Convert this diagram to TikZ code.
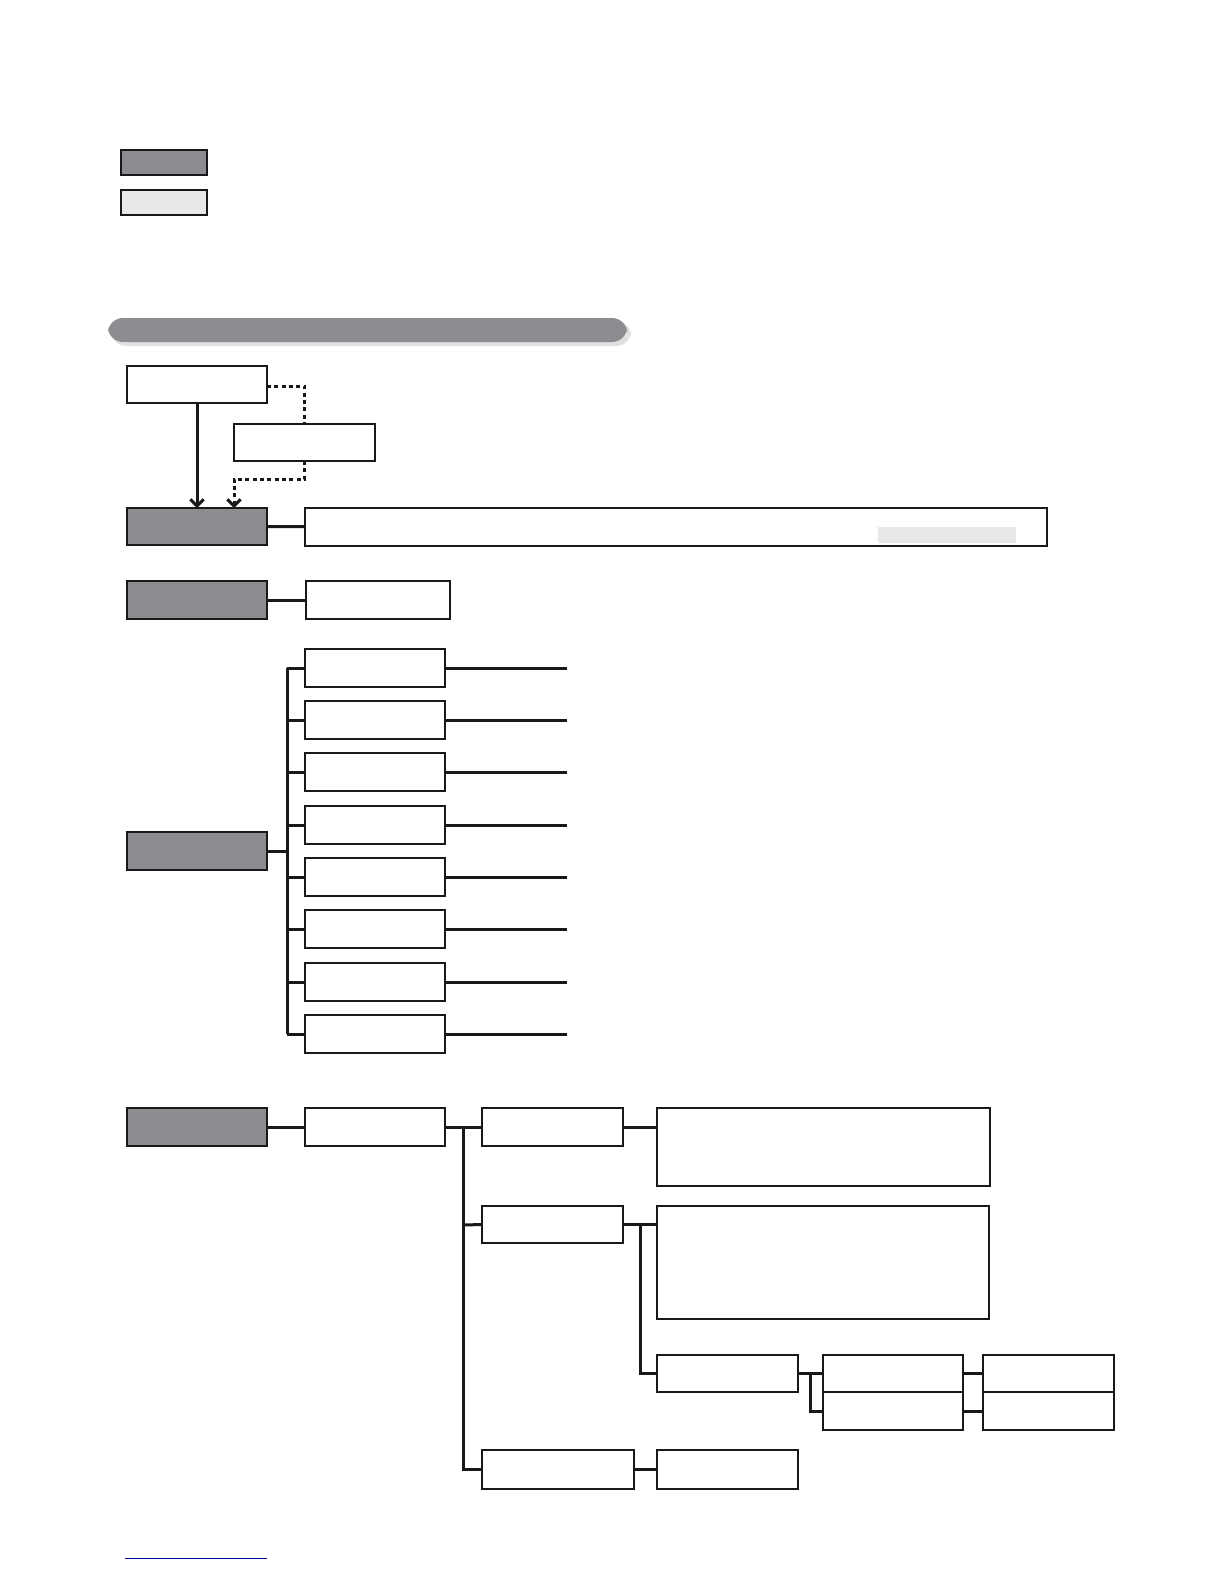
\documentclass[tikz,border=0pt]{standalone}
\usetikzlibrary{arrows.meta}
\definecolor{darkfill}{RGB}{140,141,145}
\definecolor{lightfill}{RGB}{232,232,234}
\tikzset{
  box/.style={draw=black!90,line width=0.9pt,fill=white,inner sep=0pt,outer sep=0pt},
  darkbox/.style={box,fill=darkfill},
  lightbox/.style={box,fill=lightfill},
  conn/.style={draw=black!90,line width=1.8pt},
  dotconn/.style={draw=black!90,line width=1.8pt,dash pattern=on 2.4pt off 2pt}
}
% box by its corners, in pixels
\newcommand{\bx}[6][box]{\node[#1,anchor=north west,minimum width={(#5-#3)*0.6pt},minimum height={(#6-#4)*0.6pt}] (#2) at (#3,#4) {};}
\begin{document}
\begin{tikzpicture}[x=0.6pt,y=-0.6pt]
  \useasboundingbox (0,0) rectangle (1224,1584);

  % legend
  \bx[darkbox]{legdark}{121}{150}{207}{175}
  \bx[lightbox]{leglight}{121}{190}{207}{215}

  % banner
  \fill[black!12,rounded corners=9pt] (111,321) rectangle (631,346);
  \fill[darkfill,rounded corners=9pt] (108,318) rectangle (627,342);

  % top
  \bx{src}{127}{366}{267}{403}
  \bx{alt}{234}{424}{375}{461}
  \bx[darkbox]{main}{127}{508}{267}{545}
  \bx{wide}{305}{508}{1047}{546}
  \fill[lightfill] (878,527) rectangle (1016,543);
  \draw[conn,-{Straight Barb[length=4pt,width=8pt]}] (src.south -| 197,0) -- (main.north -| 197,0);
  \draw[dotconn] (src.east |- 0,386) -| (alt.north);
  \draw[dotconn,-{Straight Barb[length=4pt,width=8pt]}] (alt.south) |- (234,479) -- (main.north -| 234,0);
  \draw[conn] (main) -- (wide);

  \bx[darkbox]{second}{127}{581}{267}{619}
  \bx{secondr}{306}{581}{450}{619}
  \draw[conn] (second) -- (secondr);

  % list
  \bx[darkbox]{list}{127}{832}{267}{870}
  \foreach \y [count=\i] in {649,701,753,806,858,910,963,1015} {
    \bx{item\i}{305}{\y}{445}{\y+38}
    \coordinate (end\i) at (567,\y+19);
    \draw[conn] (item\i) -- (end\i);
    \draw[conn] (287,\y+19) -- (item\i);
  }
  \draw[conn] (287,668) -- (287,1034);
  \draw[conn] (list) -- (287,851);

  % tree
  \bx[darkbox]{root}{127}{1108}{267}{1146}
  \bx{top}{305}{1108}{445}{1146}
  \bx{ja}{482}{1108}{623}{1146}
  \bx{ka}{657}{1108}{990}{1186}
  \bx{jb}{482}{1206}{623}{1243}
  \bx{kb}{657}{1206}{989}{1319}
  \bx{nb}{657}{1355}{798}{1392}
  \bx{oa}{823}{1355}{963}{1392}
  \bx{ob}{823}{1392}{963}{1430}
  \bx{qa}{983}{1355}{1114}{1392}
  \bx{qb}{983}{1392}{1114}{1430}
  \bx{jc}{482}{1450}{634}{1489}
  \bx{kc}{657}{1450}{798}{1489}

  \draw[conn] (root) -- (top);
  \draw[conn] (top) -- (ja);
  \draw[conn] (463,1127) |- (jc.west);
  \draw[conn] (463,1225) -- (jb.west);
  \draw[conn] (ja) -- (ka.west |- ja.east);
  \draw[conn] (jb) -- (kb.west |- jb.east);
  \draw[conn] (640,1225) |- (nb.west);
  \draw[conn] (nb) -- (oa);
  \draw[conn] (810,1374) |- (ob.west);
  \draw[conn] (oa) -- (qa);
  \draw[conn] (ob) -- (qb);
  \draw[conn] (jc) -- (kc);

  % footer rule
  \draw[blue!60!black,line width=0.6pt] (125,1558) -- (267,1558);
\end{tikzpicture}
\end{document}
